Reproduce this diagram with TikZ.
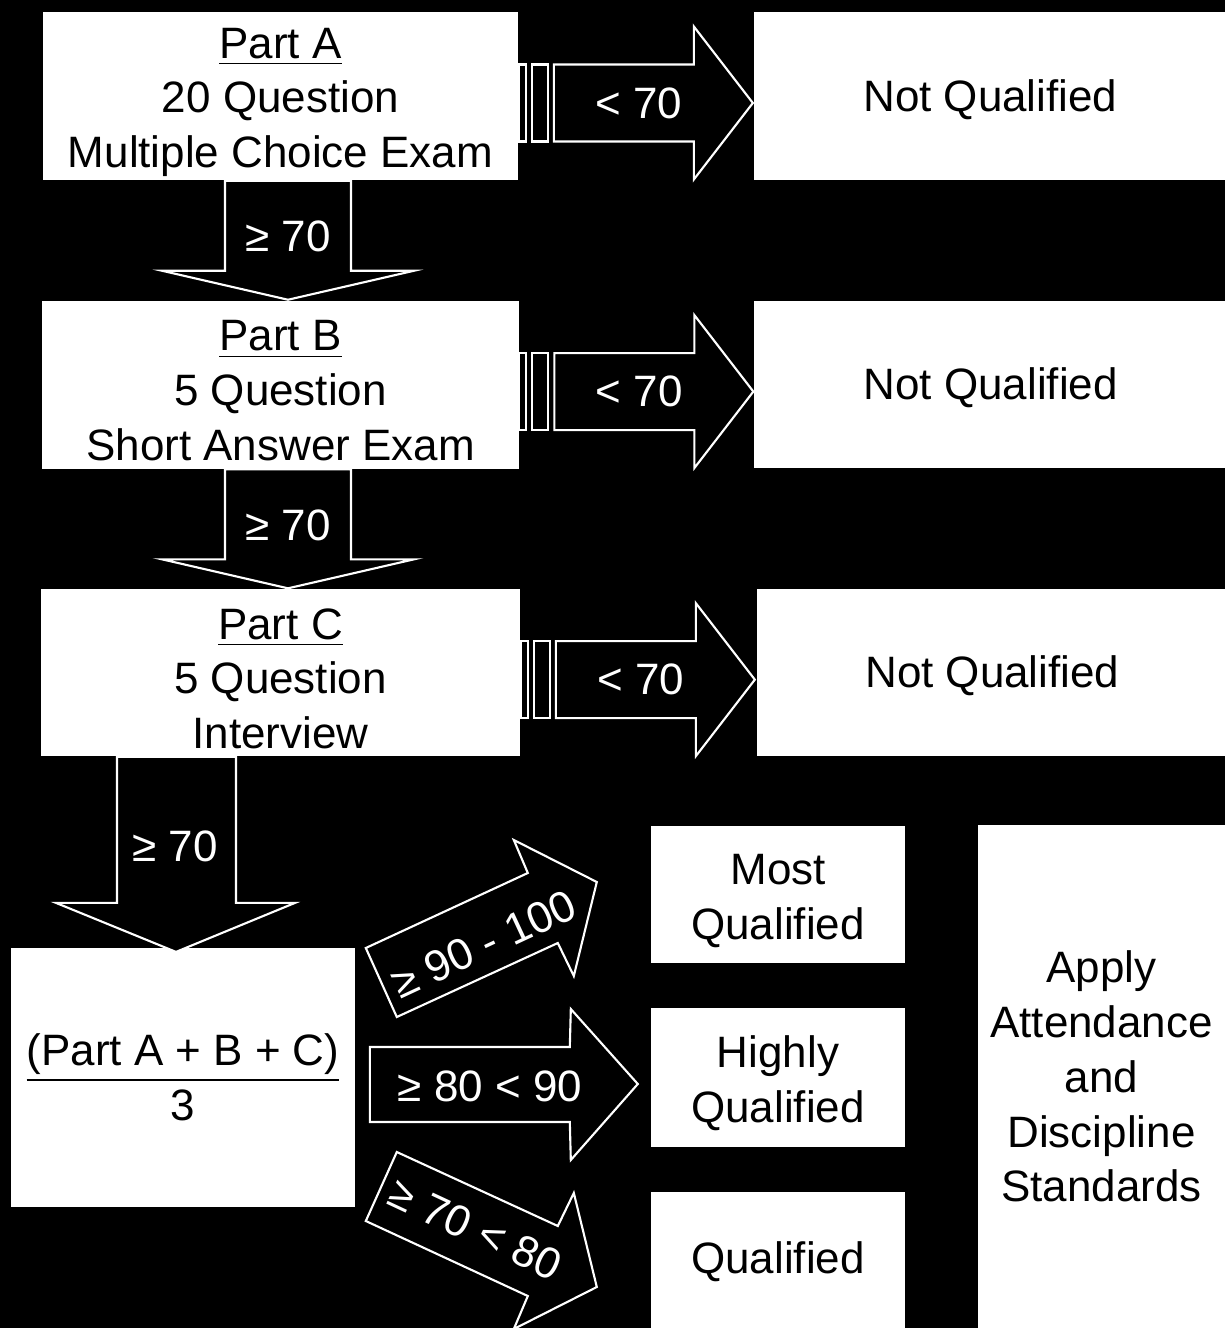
\documentclass[tikz,border=0pt]{standalone}
\usepackage{fontspec}
\setmainfont{Liberation Sans}
\usetikzlibrary{positioning}

\newcommand{\topstrut}{\rule{0pt}{12.2pt}}
\tikzset{
  box/.style={fill=white,align=center,inner sep=0pt,font=\fontsize{12.5}{15.6}\selectfont},
  blockarrow/.style={draw=white,fill=black,line width=0.6pt},
  arrowlabel/.style={text=white,inner sep=0pt,font=\fontsize{12.5}{15}\selectfont}
}

\begin{document}
\begin{tikzpicture}[x=0.01cm,y=-0.01cm,node distance=1.19cm]
  \fill[black] (0,0) rectangle (1225,1328);
  \useasboundingbox (0,0) rectangle (1225,1328);
  \clip (0,0) rectangle (1225,1328);

  % exam parts
  \node[box,minimum width=4.75cm,minimum height=1.68cm] (partA) at (280.5,96)
    {\topstrut\underline{Part A}\\20 Question\\Multiple Choice Exam};
  \node[box,minimum width=4.76cm,minimum height=1.68cm,below=of partA] (partB)
    {\topstrut\underline{Part B}\\5 Question\\Short Answer Exam};
  \node[box,minimum width=4.79cm,minimum height=1.67cm,below=of partB] (partC)
    {\topstrut\underline{Part C}\\5 Question\\Interview};

  % failing results
  \node[box,minimum width=4.73cm,minimum height=1.67cm,right=2.34cm of partA] (nqA) {\rule{0pt}{11pt}Not Qualified};
  \node[box,minimum width=4.73cm,minimum height=1.67cm,right=2.34cm of partB] (nqB) {\rule{0pt}{11pt}Not Qualified};
  \node[box,minimum width=4.71cm,minimum height=1.67cm,right=2.35cm of partC] (nqC) {\rule{0pt}{11pt}Not Qualified};

  % average and ranking
  \node[box,minimum width=3.44cm,minimum height=2.59cm] (average) at (183,1077.5)
    {\underline{(Part A + B + C)}\\3};
  \node[box,minimum width=2.54cm,minimum height=1.37cm] (most) at (778,894.5)
    {\topstrut Most\\Qualified};
  \node[box,minimum width=2.54cm,minimum height=1.38cm,below=0.44cm of most] (highly)
    {\topstrut Highly\\Qualified};
  \node[box,minimum width=2.54cm,minimum height=1.39cm,below=0.44cm of highly] (qualified)
    {Qualified};
  \node[box,minimum width=2.47cm,minimum height=5.03cm] (apply) at (1101.5,1076.5)
    {Apply\\Attendance\\and\\Discipline\\Standards};

  % < 70 arrows
  \foreach \src in {partA,partB,partC}{
    \begin{scope}[shift={(\src.east)}]
      \draw[blockarrow] (0,-31.5) rectangle (7,45.5);
      \draw[blockarrow] (13,-31.5) rectangle (29,45.5);
      \draw[blockarrow] (35,-31.5) -- (175,-31.5) -- (175,-69.5) -- (234,7)
        -- (175,83.5) -- (175,45.5) -- (35,45.5) -- cycle;
      \node[arrowlabel] at (120,7) {< 70};
    \end{scope}
  }

  % >= 70 arrows
  \foreach \src in {partA,partB}{
    \begin{scope}[shift={(\src.south)}]
      \draw[blockarrow] (-55.5,0) -- (-55.5,90) -- (-118.5,90) -- (7.5,119)
        -- (133.5,90) -- (70.5,90) -- (70.5,0) -- cycle;
      \node[arrowlabel] at (7.5,56) {≥ 70};
    \end{scope}
  }
  \begin{scope}[shift={(partC.south)}]
    \draw[blockarrow] (-163.5,0) -- (-163.5,146) -- (-224.5,146) -- (-104.5,195)
      -- (14.5,146) -- (-44.5,146) -- (-44.5,0) -- cycle;
    \node[arrowlabel] at (-105.5,89) {≥ 70};
  \end{scope}

  % ranking arrows
  \begin{scope}[shift={(average.east)}]
    \draw[blockarrow] (10,-129.5) -- (172,-204.5) -- (158,-237.5) -- (241,-195.5)
      -- (218,-101.5) -- (202,-134.5) -- (41,-60.5) -- cycle;
    \node[arrowlabel,rotate=25] at (128,-133.5) {≥ 90 - 100};
    \draw[blockarrow] (14,-30.5) -- (214,-30.5) -- (215,-68.5) -- (282,6.5)
      -- (215,82.5) -- (214,44.5) -- (14,44.5) -- cycle;
    \node[arrowlabel] at (134,8.5) {≥ 80 < 90};
    \draw[blockarrow] (10,143.5) -- (172,218.5) -- (158,251.5) -- (241,209.5)
      -- (218,115.5) -- (202,148.5) -- (41,74.5) -- cycle;
    \node[arrowlabel,rotate=-25] at (120,151.5) {≥ 70 < 80};
  \end{scope}
\end{tikzpicture}
\end{document}
